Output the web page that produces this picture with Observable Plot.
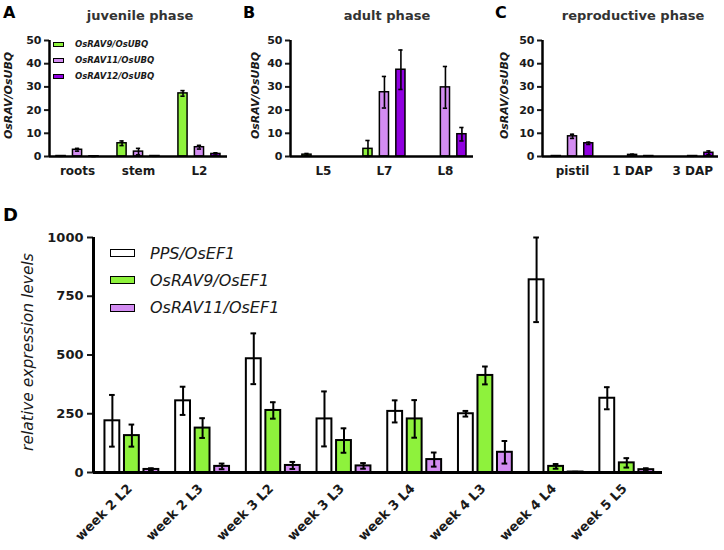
<!DOCTYPE html>
<html><head><meta charset="utf-8">
<script src="https://cdn.jsdelivr.net/npm/d3@7"></script>
<script src="https://cdn.jsdelivr.net/npm/@observablehq/plot@0.6"></script>
<style>
body{margin:0;background:#fff;}
#root{position:relative;width:724px;height:550px;font-family:"DejaVu Sans",sans-serif;overflow:hidden;background:#fff;}
.panel{position:absolute;}
.letter{position:absolute;font-weight:bold;color:#000;line-height:1;}
.title{position:absolute;font-weight:bold;font-size:13px;color:#333;transform:translateX(-50%);white-space:nowrap;line-height:1;}
.lg{position:absolute;display:flex;align-items:center;white-space:nowrap;}
.sw{box-sizing:border-box;border:1.5px solid #000;}
</style>
</head><body>
<div id="root"></div>
<script>
// ---------- data: panels A-C (OsRAV / OsUBQ) ----------
const ravSeries = ["OsRAV9/OsUBQ", "OsRAV11/OsUBQ", "OsRAV12/OsUBQ"];
const ravColors = ["#8ef23c", "#d38cf2", "#9000e0"];

const juvCats = ["roots", "stem", "L2"];
const juvRAV9 = [0.2, 5.7, 27.2];
const juvRAV9Err = [0.1, 1.0, 1.2];
const juvRAV11 = [2.9, 2.1, 4.0];
const juvRAV11Err = [0.6, 1.4, 0.8];
const juvRAV12 = [0.1, 0.2, 1.1];
const juvRAV12Err = [0.1, 0.1, 0.5];

const adultCats = ["L5", "L7", "L8"];
const adultRAV9 = [0.8, 3.3, 0.0];
const adultRAV9Err = [0.5, 3.6, 0];
const adultRAV11 = [0.0, 27.7, 29.8];
const adultRAV11Err = [0, 6.8, 9.0];
const adultRAV12 = [0.0, 37.4, 9.6];
const adultRAV12Err = [0, 8.5, 2.9];

const reproCats = ["pistil", "1 DAP", "3 DAP"];
const reproRAV9 = [0.2, 0.0, 0.0];
const reproRAV9Err = [0.1, 0, 0];
const reproRAV11 = [8.7, 0.7, 0.2];
const reproRAV11Err = [0.9, 0.3, 0.1];
const reproRAV12 = [5.7, 0.2, 1.6];
const reproRAV12Err = [0.5, 0.1, 0.8];

const ravTicks = [0, 10, 20, 30, 40, 50];

// ---------- data: panel D (relative expression / OsEF1) ----------
const weekCats = ["week 2 L2", "week 2 L3", "week 3 L2", "week 3 L3", "week 3 L4", "week 4 L3", "week 4 L4", "week 5 L5"];
const efSeries = ["PPS/OsEF1", "OsRAV9/OsEF1", "OsRAV11/OsEF1"];
const efColors = ["#ffffff", "#8ef23c", "#d38cf2"];
const ppsMean = [220, 305, 484, 228, 260, 250, 820, 316];
const ppsErr = [110, 60, 108, 117, 47, 12, 180, 47];
const rav9Mean = [157, 189, 264, 136, 228, 413, 26, 41];
const rav9Err = [47, 42, 35, 52, 80, 38, 10, 20];
const rav11Mean = [13, 26, 30, 28, 55, 86, 2, 12];
const rav11Err = [5, 12, 15, 12, 30, 48, 1, 6];
const efTicks = [0, 250, 500, 750, 1000];

// ---------- helpers ----------
function rowsFrom(cats, series, means, errs, offset) {
  const rows = [];
  series.forEach((s, si) => {
    cats.forEach((c, ci) => {
      rows.push({cat: c, series: s, pos: ci + (si - 1) * offset, value: means[si][ci], err: errs[si][ci]});
    });
  });
  return rows;
}

function barPanel(o) {
  const rows = rowsFrom(o.cats, o.series, o.means, o.errs, o.offset);
  const eb = rows.filter(d => d.err > 0);
  return Plot.plot({
    width: o.width, height: o.height,
    marginLeft: o.mLeft, marginRight: o.mRight, marginTop: o.mTop, marginBottom: o.mBottom,
    x: {type: "linear", domain: o.xDomain, axis: null},
    y: {domain: o.yDomain, axis: null},
    color: {domain: o.series, range: o.colors},
    style: {fontFamily: "DejaVu Sans, sans-serif", fontWeight: "bold", color: "#1a1a1a", background: "transparent", overflow: "visible"},
    marks: [
      Plot.rect(rows, {x1: d => d.pos - o.hw, x2: d => d.pos + o.hw, y1: 0, y2: "value", fill: "series", stroke: "#000", strokeWidth: o.barStroke}),
      Plot.ruleX(eb, {x: "pos", y1: d => Math.max(0, d.value - d.err), y2: d => d.value + d.err, stroke: "#000", strokeWidth: o.errStroke}),
      Plot.ruleY(eb, {x1: d => d.pos - o.cap, x2: d => d.pos + o.cap, y: d => d.value + d.err, stroke: "#000", strokeWidth: o.errStroke}),
      Plot.ruleY(eb, {x1: d => d.pos - o.cap, x2: d => d.pos + o.cap, y: d => Math.max(0, d.value - d.err), stroke: "#000", strokeWidth: o.errStroke}),
      Plot.axisY({ticks: o.yTicks, tickFormat: d => String(d), tickSize: o.tickSize, tickPadding: o.tickPad, strokeWidth: 2, fontSize: o.tickFont, fontWeight: "bold", label: null}),
      Plot.axisX({ticks: o.cats.map((c, i) => i), tickFormat: i => o.cats[i], tickSize: 0, tickPadding: o.xPad, tickRotate: o.rotate || 0, fontSize: o.catFont, fontWeight: "bold", dx: o.xdx || 0, label: null}),
      Plot.ruleX([o.xDomain[0]], {stroke: "#000", strokeWidth: o.axisStroke}),
      Plot.ruleY([o.yDomain[0]], {stroke: "#000", strokeWidth: o.axisStroke}),
      Plot.text([o.yLabel], {frameAnchor: "left", textAnchor: "middle", lineAnchor: "middle", rotate: -90, dx: o.labelDx, dy: o.labelDy || 0, fontStyle: "italic", fontWeight: o.labelWeight, fontSize: o.labelFont, fill: "#1a1a1a"})
    ]
  });
}

const root = document.getElementById("root");
function place(el, left, top) {
  const wrap = document.createElement("div");
  wrap.className = "panel";
  wrap.style.left = left + "px";
  wrap.style.top = top + "px";
  wrap.appendChild(el);
  root.appendChild(wrap);
}
function addText(cls, txt, left, top, size) {
  const d = document.createElement("div");
  d.className = cls;
  d.textContent = txt;
  d.style.left = left + "px";
  d.style.top = top + "px";
  if (size) d.style.fontSize = size + "px";
  root.appendChild(d);
}
function addLegend(items, colors, o) {
  items.forEach((t, i) => {
    const row = document.createElement("div");
    row.className = "lg";
    row.style.left = o.left + "px";
    row.style.top = (o.top + i * o.step) + "px";
    row.style.height = o.rowH + "px";
    const sw = document.createElement("div");
    sw.className = "sw";
    sw.style.width = o.swW + "px";
    sw.style.height = o.swH + "px";
    sw.style.background = colors[i];
    sw.style.borderWidth = o.swB + "px";
    const tx = document.createElement("span");
    tx.textContent = t;
    tx.style.marginLeft = o.gap + "px";
    tx.style.fontSize = o.font + "px";
    tx.style.fontStyle = "italic";
    tx.style.fontWeight = o.weight;
    tx.style.color = "#1a1a1a";
    row.appendChild(sw);
    row.appendChild(tx);
    root.appendChild(row);
  });
}

const smallCommon = {
  series: ravSeries, colors: ravColors, offset: 0.27, hw: 0.075, cap: 0.035,
  height: 185, mTop: 40, mBottom: 29, yDomain: [0, 50], yTicks: ravTicks,
  tickSize: 5, tickPad: 3, tickFont: 11, catFont: 12, xPad: 10,
  barStroke: 1.5, errStroke: 1.6, axisStroke: 2.5,
  yLabel: "OsRAV/OsUBQ", labelWeight: "bold", labelFont: 11, labelDy: -3
};

place(barPanel({...smallCommon, cats: juvCats,
  means: [juvRAV9, juvRAV11, juvRAV12], errs: [juvRAV9Err, juvRAV11Err, juvRAV12Err],
  width: 240, mLeft: 49, mRight: 13, xDomain: [-0.46, 2.46], labelDx: -41}), 0, 0);

place(barPanel({...smallCommon, cats: adultCats,
  means: [adultRAV9, adultRAV11, adultRAV12], errs: [adultRAV9Err, adultRAV11Err, adultRAV12Err],
  width: 240, mLeft: 50, mRight: 7, xDomain: [-0.54, 2.46], labelDx: -35}), 240, 0);

place(barPanel({...smallCommon, cats: reproCats,
  means: [reproRAV9, reproRAV11, reproRAV12], errs: [reproRAV9Err, reproRAV11Err, reproRAV12Err],
  width: 244, mLeft: 62, mRight: 6, xDomain: [-0.5, 2.43], labelDx: -38}), 480, 0);

place(barPanel({cats: weekCats, series: efSeries, colors: efColors,
  means: [ppsMean, rav9Mean, rav11Mean], errs: [ppsErr, rav9Err, rav11Err],
  offset: 0.276, hw: 0.105, cap: 0.04,
  width: 724, height: 360, mLeft: 93, mRight: 62, mTop: 47, mBottom: 78,
  xDomain: [-0.543, 7.505], yDomain: [0, 1000], yTicks: efTicks,
  tickSize: 6, tickPad: 4, tickFont: 13, catFont: 13, xPad: 14, rotate: -45, xdx: -2,
  barStroke: 2, errStroke: 2, axisStroke: 3,
  yLabel: "relative expression levels", labelWeight: "normal", labelFont: 15.5, labelDx: -65, labelDy: -3}), 0, 190);

// panel letters and titles
addText("letter", "A", 3, 5, 16);
addText("letter", "B", 243, 5, 16);
addText("letter", "C", 495, 5, 16);
addText("letter", "D", 3, 206, 18);
addText("title", "juvenile phase", 140, 9);
addText("title", "adult phase", 387, 9);
addText("title", "reproductive phase", 633, 9);

// legends
addLegend(ravSeries, ravColors, {left: 53, top: 39, step: 16, rowH: 10, swW: 11, swH: 5, swB: 1, gap: 11, font: 8.5, weight: "bold"});
addLegend(efSeries, efColors, {left: 110, top: 243, step: 27.3, rowH: 20, swW: 25, swH: 8, swB: 1.5, gap: 15, font: 16, weight: "normal"});
</script>
</body></html>
